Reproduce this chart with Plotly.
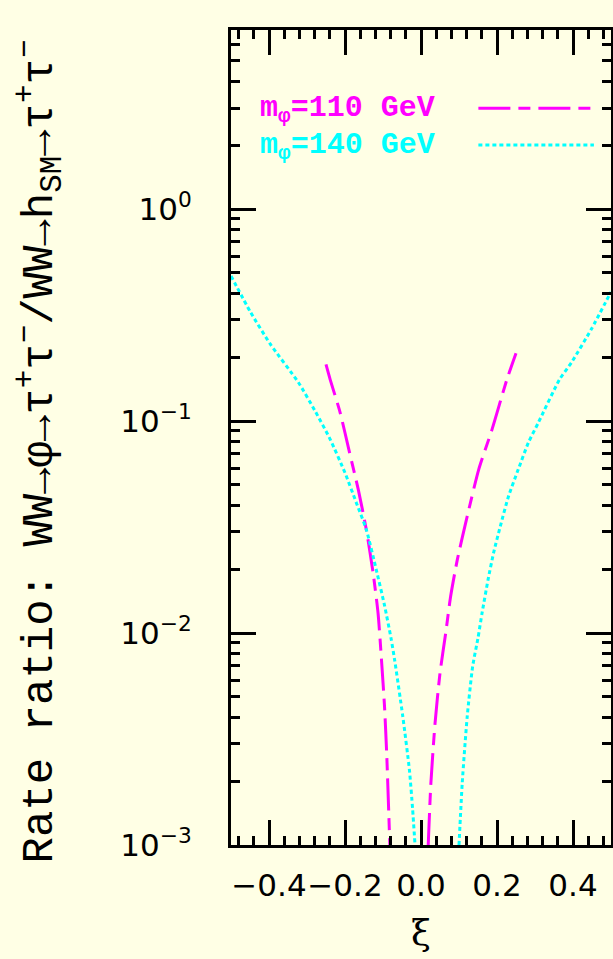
import numpy as np
import plotly.graph_objects as go

# m_phi = 110 GeV (two branches either side of the zero)
xi_110_left = [-0.250, -0.239, -0.213, -0.188, -0.165, -0.144, -0.126, -0.113, -0.104, -0.096, -0.090, -0.0845, -0.082]
r_110_left = [0.185, 0.157, 0.110, 0.0710, 0.0475, 0.0308, 0.0192, 0.0124, 0.00748, 0.00451, 0.00262, 0.00136, 0.00100]
xi_110_right = [0.019, 0.026, 0.037, 0.050, 0.065, 0.078, 0.0956, 0.1217, 0.152, 0.187, 0.226, 0.250]
r_110_right = [0.00100, 0.00196, 0.00376, 0.00647, 0.0100, 0.0149, 0.0222, 0.0356, 0.0592, 0.0914, 0.157, 0.209]

# m_phi = 140 GeV
xi_140_left = [-0.500, -0.448, -0.396, -0.3225, -0.278, -0.239, -0.200, -0.170, -0.144, -0.118, -0.096, -0.079, -0.070, -0.048, -0.0305, -0.022, -0.0157]
r_140_left = [0.484, 0.325, 0.230, 0.152, 0.111, 0.0820, 0.0570, 0.0411, 0.0308, 0.0200, 0.0135, 0.00948, 0.00759, 0.00405, 0.00226, 0.00147, 0.00100]
xi_140_right = [0.100, 0.1085, 0.1217, 0.136, 0.150, 0.1608, 0.1765, 0.191, 0.2087, 0.2305, 0.256, 0.2826, 0.3086, 0.3645, 0.396, 0.448, 0.500]
r_140_right = [0.00100, 0.00196, 0.00405, 0.00697, 0.00948, 0.01245, 0.01786, 0.02388, 0.0319, 0.0443, 0.0592, 0.0791, 0.0982, 0.157, 0.189, 0.271, 0.407]

x_ticks = [-0.4, -0.2, 0.0, 0.2, 0.4]
x_ticktext = ["\u22120.4", "\u22120.2", "0.0", "0.2", "0.4"]
y_ticks = [1e-3, 1e-2, 1e-1, 1e0]
y_ticktext = ["10<sup>\u22123</sup>", "10<sup>\u22122</sup>", "10<sup>\u22121</sup>", "10<sup>0</sup>"]
y_minor = [k * 10.0 ** e for e in range(-3, 1) for k in range(2, 10)]

series = [
    ("m<sub>\u03c6</sub>=110 GeV", "#FF00FF", "32px,8px,12px,8px", xi_110_left, r_110_left, xi_110_right, r_110_right),
    ("m<sub>\u03c6</sub>=140 GeV", "#00FFFF", "4px,3px", xi_140_left, r_140_left, xi_140_right, r_140_right),
]

BG = "#FFFFE5"
fig = go.Figure()

for name, color, dash, xl, yl, xr, yr in series:
    for xs, ys in ((xl, yl), (xr, yr)):
        fig.add_trace(go.Scatter(
            x=xs, y=ys, mode="lines", showlegend=False,
            line=dict(color=color, width=3, dash=dash, shape="spline", smoothing=0.6),
        ))

# in-plot key: label on the left, line sample on the right
key_rows = [0.902, 0.857]
for (name, color, dash, *_), yk in zip(series, key_rows):
    fig.add_annotation(
        x=0.070, y=yk, xref="paper", yref="paper", text="<b>" + name + "</b>",
        showarrow=False, xanchor="left", yanchor="middle",
        font=dict(family="Liberation Mono", size=30, color=color),
    )
    fig.add_shape(
        type="line", xref="paper", yref="paper", x0=0.651, x1=0.955, y0=yk + 0.002, y1=yk + 0.002,
        line=dict(color=color, width=3, dash=dash),
    )

# vertical axis title
fig.add_annotation(
    x=-0.505, y=0.483, xref="paper", yref="paper", textangle=-90,
    text="Rate ratio: WW\u2192\u03c6\u2192\u03c4<sup>+</sup>\u03c4<sup>\u2212</sup>/WW\u2192h<sub>SM</sub>\u2192\u03c4<sup>+</sup>\u03c4<sup>\u2212</sup>",
    showarrow=False, xanchor="center", yanchor="middle",
    font=dict(family="Liberation Mono", size=44, color="black"),
)

axis_common = dict(
    showline=True, linecolor="black", linewidth=3, mirror="allticks",
    ticks="inside", ticklen=25, tickwidth=3, tickcolor="black",
    showgrid=False, zeroline=False, automargin=False,
    tickfont=dict(family="DejaVu Sans", size=31, color="black"),
)

fig.update_xaxes(
    range=[-0.5, 0.5], tickvals=x_ticks, ticktext=x_ticktext, tickangle=0,
    minor=dict(ticks="inside", ticklen=9, tickwidth=3, tickcolor="black", dtick=0.04, tick0=0, showgrid=False),
    ticklabelstandoff=11,
    title=dict(text="\u03be", font=dict(family="DejaVu Serif", size=36, color="black"), standoff=18),
    **axis_common,
)
fig.update_yaxes(
    type="log", range=[-3, np.log10(7)], tickvals=y_ticks, ticktext=y_ticktext,
    minor=dict(ticks="inside", ticklen=9, tickwidth=3, tickcolor="black", tickvals=y_minor, showgrid=False),
    ticklabelstandoff=30,
    **axis_common,
)

fig.update_layout(
    width=613, height=959,
    margin=dict(l=231, r=2, t=30, b=114),
    paper_bgcolor=BG, plot_bgcolor=BG,
    showlegend=False,
)

fig.write_html("out.html")
